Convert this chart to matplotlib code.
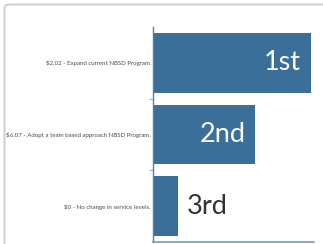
import matplotlib.pyplot as plt
from matplotlib.patches import FancyBboxPatch

labels = ["$2.02 - Expand current NBSD Program.",
          "$6.07 - Adopt a team based approach NBSD Program.",
          "$0 - No change in service levels."]
scores = [1.96, 1.27, 0.31]
ranks = ["1st", "2nd", "3rd"]

plt.rcParams['font.family'] = ['Lato', 'DejaVu Sans']
plt.rcParams['text.parse_math'] = False

fig = plt.figure(figsize=(3.23, 2.44), dpi=100)

# card border
card = FancyBboxPatch((4.5 / 323, -0.1), 1.2, 1.1 - 4.5 / 244,
                      boxstyle="round,pad=0,rounding_size=0.015",
                      transform=fig.transFigure, facecolor="none",
                      edgecolor="#c9cdd2", linewidth=1.3, zorder=-1)
fig.patches.append(card)

ax = fig.add_axes([153 / 323, 2 / 244, 161 / 323, 215 / 244])
ax.set_facecolor("none")
y = range(len(labels))
ax.barh(y, scores, height=0.83, color="#3b6f9a")
ax.set_xlim(0, 2.0)
ax.set_ylim(2.5, -0.5)

for i, (s, r) in enumerate(zip(scores, ranks)):
    if s > 1.0:
        ax.text(s - 0.12, i, r, ha="right", va="center", color="white", fontsize=19.5)
    else:
        ax.text(s + 0.11, i, r, ha="left", va="center", color="#333333", fontsize=19.5)

ax.set_yticks(list(y))
ax.set_yticklabels(labels, fontsize=4.4, color="#4d4d4d")
ax.tick_params(axis="y", which="major", length=0, pad=1.5)
ax.set_yticks([0.5, 1.5], minor=True)
ax.tick_params(axis="y", which="minor", length=3, color="#9fb3c8", width=0.8)
ax.set_xticks([])
for side in ["top", "right"]:
    ax.spines[side].set_visible(False)
ax.spines["left"].set_color("#4a7fae")
ax.spines["left"].set_linewidth(1.0)
ax.spines["bottom"].set_color("#6f9cc4")
ax.spines["bottom"].set_linewidth(1.2)

fig.savefig("out.png", dpi=100)
